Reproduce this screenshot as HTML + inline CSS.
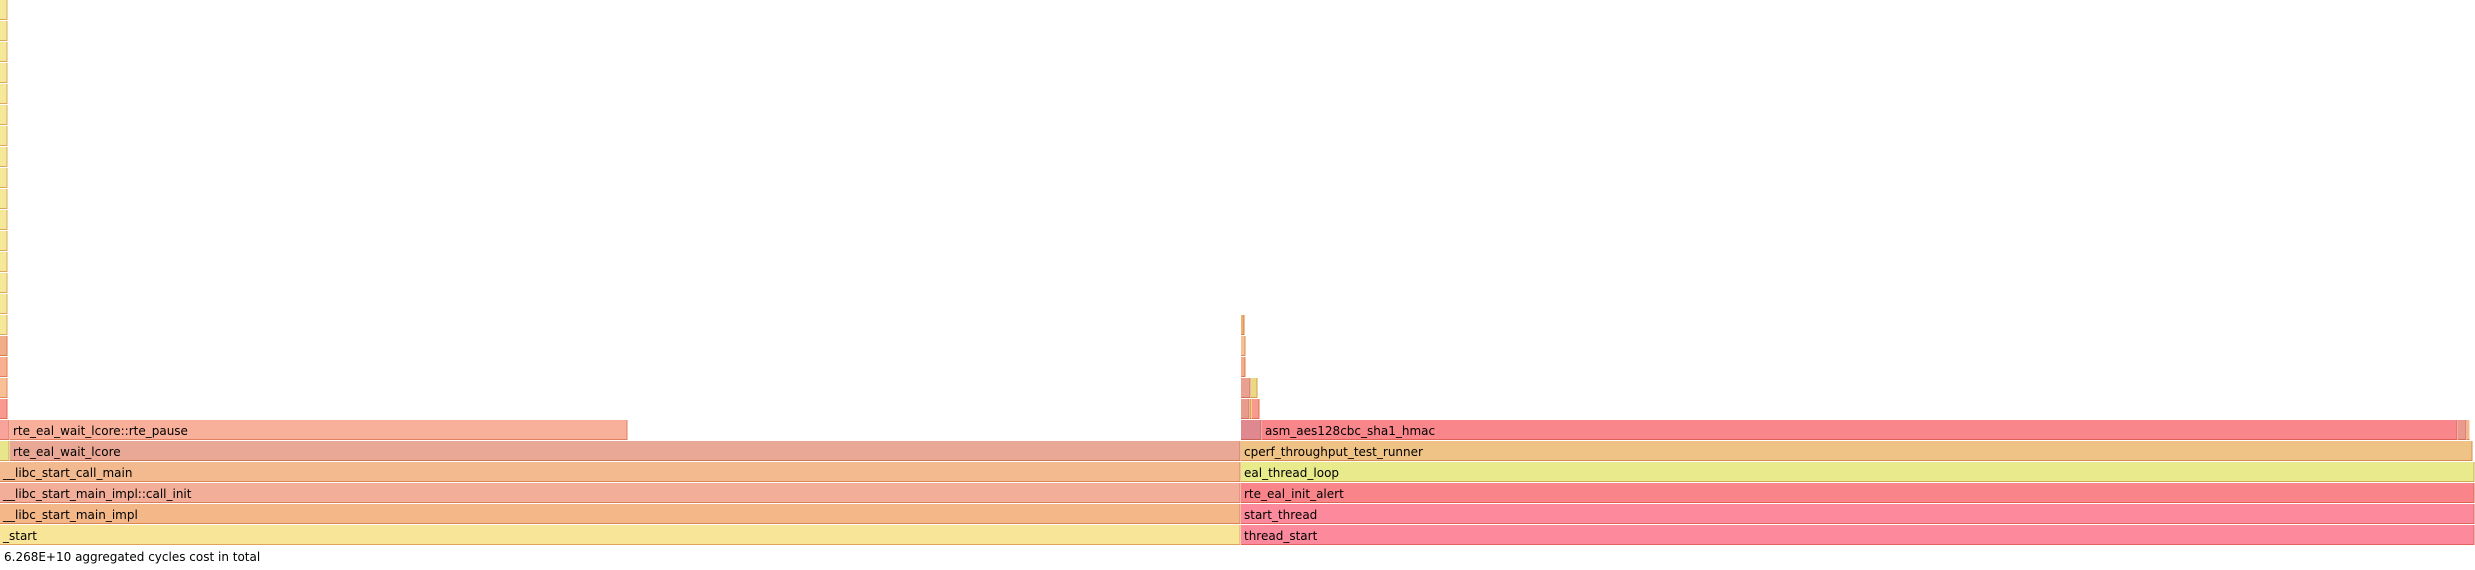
<!DOCTYPE html>
<html><head><meta charset="utf-8"><style>
html,body{margin:0;padding:0;background:#fff;width:2475px;height:570px;overflow:hidden}
svg{display:block}
text{font-family:"DejaVu Sans","Liberation Sans",sans-serif;font-size:12px;fill:#000}
</style></head><body>
<svg id="fg" width="2475" height="570"></svg>
<script>
// frames: name, depth (0 = bottom), start, width (units: 1/2475 of total cycles)
const frameNames = ["_start","thread_start","__libc_start_main_impl","start_thread","__libc_start_main_impl::call_init","rte_eal_init_alert","__libc_start_call_main","eal_thread_loop","","rte_eal_wait_lcore","cperf_throughput_test_runner","","rte_eal_wait_lcore::rte_pause","","asm_aes128cbc_sha1_hmac","","","","","","","","","","","","","","","","","","","","","","","","","","","","",""];
const frameDepths = [0,0,1,1,2,2,3,3,4,4,4,5,5,5,5,5,5,6,6,6,6,7,7,7,8,8,9,9,10,10,11,12,13,14,15,16,17,18,19,20,21,22,23,24,25];
const frameStarts = [0,1241,0,1241,0,1241,0,1241,0,10,1241,0,10,1241,1262,2458,2467,0,1241,1250,1252,0,1241,1251,0,1241,0,1241,0,1241,0,0,0,0,0,0,0,0,0,0,0,0,0,0,0];
const frameWidths = [1241,1234,1241,1234,1241,1234,1241,1234,10,1231,1232,10,618,21,1196,9,3,8,9,2,8,8,10,7,8,5,8,5,8,4,8,8,8,8,8,8,8,8,8,8,8,8,8,8,8];
const frameColors = ["#f8e597","#fd8a9c","#f3b788","#fd8a9c","#f2ae98","#f9858b","#f2ba8e","#e8ea8c","#e8e58a","#e8a895","#efc385","#f8a49a","#f8b09a","#e0888f","#f9868b","#e99a8c","#f7b88c","#f99a8e","#e99c8c","#e8a040","#f99a8e","#f8c094","#e9a090","#ebd982","#f8b090","#f6ab88","#f0ad88","#f8c094","#f5e899","#eeb070","#f5e899","#f5e899","#f5e899","#f5e899","#f5e899","#f5e899","#f5e899","#f5e899","#f5e899","#f5e899","#f5e899","#f5e899","#f5e899","#f5e899","#f5e899"];
const totalUnits = 2475;
const rowH = 21, baseY = 525;
const svg = document.getElementById('fg');
const NS = "http://www.w3.org/2000/svg";
function xScale(v){return v/totalUnits*2475;}
function yScale(d){return baseY - d*rowH;}
function darker(hex){
  const n=parseInt(hex.slice(1),16);let r=n>>16,g=(n>>8)&255,b=n&255;
  r=Math.round(r*0.9);g=Math.round(g*0.72);b=Math.round(b*0.6);
  return `rgb(${r},${g},${b})`;
}
for(let i=0;i<frameDepths.length;i++){
  const x=xScale(frameStarts[i]), w=xScale(frameWidths[i]), y=yScale(frameDepths[i]);
  const g=document.createElementNS(NS,'g');
  
  
  const r=document.createElementNS(NS,'rect');
  r.setAttribute('x',x);r.setAttribute('y',y);r.setAttribute('width',Math.max(w-0.5,1));r.setAttribute('height',20);
  r.setAttribute('fill',frameColors[i]);
  g.appendChild(r);
  const bl=document.createElementNS(NS,'rect');
  bl.setAttribute('x',x);bl.setAttribute('y',y+19);bl.setAttribute('width',Math.max(w-0.5,1));bl.setAttribute('height',1);
  bl.setAttribute('fill',darker(frameColors[i]));
  g.appendChild(bl);
  if(w>3){
    const br=document.createElementNS(NS,'rect');
    br.setAttribute('x',x+w-1.5);br.setAttribute('y',y);br.setAttribute('width',1);br.setAttribute('height',20);
    br.setAttribute('fill',darker(frameColors[i]));
    g.appendChild(br);
  }
  if(frameNames[i] && w>40){
    const t=document.createElementNS(NS,'text');
    t.setAttribute('x',x+3);t.setAttribute('y',y+15);
    t.textContent=frameNames[i];
    g.appendChild(t);
  }
  svg.appendChild(g);
}
const tot=document.createElementNS(NS,'text');
tot.setAttribute('x',4);tot.setAttribute('y',561);


tot.textContent='6.268E+10 aggregated cycles cost in total';
svg.appendChild(tot);
</script>
</body></html>
